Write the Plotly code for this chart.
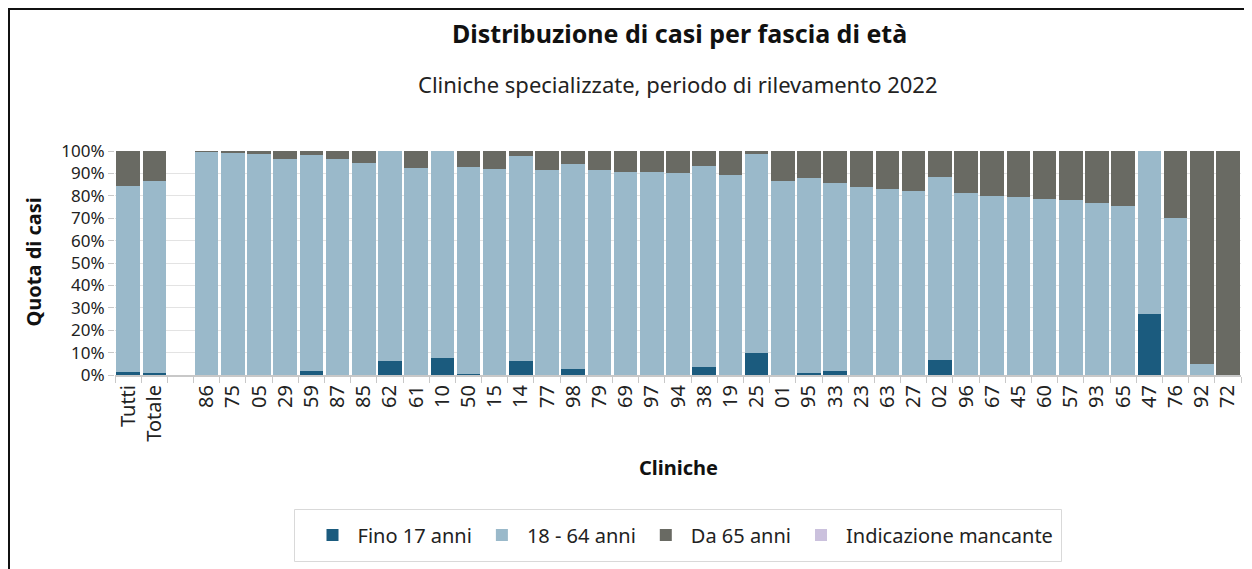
import plotly.graph_objects as go

categories = ["Tutti", "Totale", " ", "86", "75", "05", "29", "59", "87", "85", "62", "61", "10",
              "50", "15", "14", "77", "98", "79", "69", "97", "94", "38", "19", "25", "01", "95",
              "33", "23", "63", "27", "02", "96", "67", "45", "60", "57", "93", "65", "47", "76",
              "92", "72"]

fino_17 = [1.2, 1.0, None, 0, 0, 0, 0, 1.6, 0, 0, 6.2, 0, 7.4,
           0.6, 0, 6.1, 0, 2.5, 0, 0, 0, 0, 3.7, 0, 9.8, 0, 1.0,
           1.9, 0, 0, 0, 6.7, 0, 0, 0, 0, 0, 0, 0, 27.3, 0,
           0, 0]
da_18_64 = [83.2, 85.8, None, 99.6, 99.3, 98.6, 96.6, 96.5, 96.6, 94.8, 93.8, 92.6, 92.6,
            92.3, 92.0, 91.7, 91.4, 91.7, 91.4, 90.6, 90.6, 90.3, 89.5, 89.3, 88.9, 86.6, 86.8,
            84.0, 83.8, 83.2, 82.3, 81.7, 81.4, 80.1, 79.5, 78.5, 78.3, 76.7, 75.5, 72.7, 70.0,
            5.1, 0]
da_65 = [15.6, 13.2, None, 0.4, 0.7, 1.4, 3.4, 1.9, 3.4, 5.2, 0, 7.4, 0,
         7.1, 8.0, 2.2, 8.6, 5.8, 8.6, 9.4, 9.4, 9.7, 6.8, 10.7, 1.3, 13.4, 12.2,
         14.1, 16.2, 16.8, 17.7, 11.6, 18.6, 19.9, 20.5, 21.5, 21.7, 23.3, 24.5, 0, 30.0,
         94.9, 100]
mancante = [0] * 2 + [None] + [0] * 40

series = [
    ("Fino 17 anni", fino_17, "#1B5B7E"),
    ("18 - 64 anni", da_18_64, "#9AB9CA"),
    ("Da 65 anni", da_65, "#696A63"),
    ("Indicazione mancante", mancante, "#CBC1DD"),
]

OFF = 8  # page offset of the figure (body margin)
W, H = 1244, 561
L, R, T, B = 107, 11, 143, 194
pw, ph = W - L - R, H - T - B

def px_x(x):
    return (x - OFF - L) / pw

def px_y(y):
    return (H - B - (y - OFF)) / ph

FONT = "Noto Sans"

fig = go.Figure()
for name, vals, color in series:
    fig.add_trace(go.Bar(x=categories, y=vals, name=name, marker=dict(color=color, line=dict(width=0))))

fig.update_layout(
    width=W, height=H,
    margin=dict(l=L, r=R, t=T, b=B),
    barmode="stack",
    bargap=0.1,
    plot_bgcolor="white",
    paper_bgcolor="white",
    font=dict(family=FONT, color="#222222", size=20),
    showlegend=True,
    legend=dict(orientation="h", x=px_x(683), xanchor="center", y=px_y(535), yanchor="middle",
                borderwidth=0, font=dict(size=20, color="#222222"), itemwidth=40,
                traceorder="normal", bgcolor="rgba(0,0,0,0)"),
    xaxis=dict(type="category", tickangle=-90, tickson="boundaries", ticks="outside",
               ticklen=6, tickcolor="#c8c8c8", showline=True, linecolor="#c8c8c8", linewidth=2,
               showgrid=False, tickfont=dict(size=20, color="#222222")),
    yaxis=dict(range=[0, 100], dtick=10, ticksuffix="%", ticks="outside", ticklen=6,
               tickcolor="#c8c8c8", showgrid=True, gridcolor="#e3e3e3", gridwidth=1,
               zeroline=False, showline=False, tickfont=dict(size=17, color="#222222")),
    annotations=[
        dict(text="<b>Distribuzione di casi per fascia di età</b>", xref="paper", yref="paper",
             x=px_x(679), y=px_y(33), xanchor="center", yanchor="middle", showarrow=False,
             font=dict(size=25, color="#111111")),
        dict(text="Cliniche specializzate, periodo di rilevamento 2022", xref="paper", yref="paper",
             x=px_x(678), y=px_y(84), xanchor="center", yanchor="middle", showarrow=False,
             font=dict(size=22, color="#222222")),
        dict(text="<b>Cliniche</b>", xref="paper", yref="paper",
             x=px_x(678), y=px_y(467), xanchor="center", yanchor="middle", showarrow=False,
             font=dict(size=20, color="#111111")),
        dict(text="<b>Quota di casi</b>", xref="paper", yref="paper", textangle=-90,
             x=px_x(32.5), y=px_y(262), xanchor="center", yanchor="middle", showarrow=False,
             font=dict(size=20, color="#111111")),
    ],
    shapes=[
        dict(type="rect", xref="paper", yref="paper",
             x0=px_x(9), x1=px_x(1249.5), y0=px_y(640), y1=px_y(9),
             line=dict(color="#111111", width=2), fillcolor="rgba(0,0,0,0)", layer="above"),
        dict(type="rect", xref="paper", yref="paper",
             x0=px_x(294.5), x1=px_x(1061.5), y0=px_y(561.5), y1=px_y(509.5),
             line=dict(color="#d9d9d9", width=1), fillcolor="rgba(0,0,0,0)", layer="below"),
    ],
)

fig.write_html("out.html")
